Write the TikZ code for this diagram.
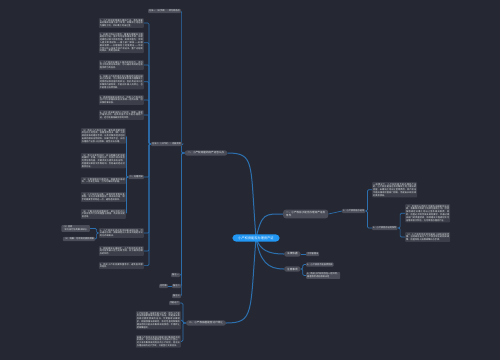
\documentclass[tikz,border=0pt]{standalone}
\usepackage{fontspec}
\newfontfamily\cjk{Noto Sans CJK SC}
\XeTeXlinebreaklocale "zh"
\XeTeXlinebreakskip=0pt plus 0.6pt
\definecolor{MapBack}{RGB}{37,40,50}
\definecolor{MapLine}{RGB}{44,112,176}
\definecolor{MapBlue}{RGB}{33,150,243}
\definecolor{MapNode}{RGB}{74,77,88}
\definecolor{MapLeaf}{RGB}{60,63,73}
\definecolor{MapText}{RGB}{232,233,236}
\pgfdeclarelayer{bg}
\pgfsetlayers{bg,main}

\begin{document}
\begin{tikzpicture}[x=1pt,y=-1pt,
    topic/.style={fill=MapBlue,text=white,rounded corners=4pt,inner xsep=6pt,inner ysep=2.2pt,font=\cjk\fontsize{3.2}{3.8}\selectfont},
    branch/.style={fill=MapNode,text=MapText,rounded corners=2.5pt,inner xsep=3pt,inner ysep=1.5pt,font=\cjk\fontsize{2.6}{3.2}\selectfont},
    tag/.style={fill=MapNode,text=MapText,rounded corners=0.8pt,inner sep=1pt,font=\cjk\fontsize{2.2}{2.8}\selectfont},
    leaf/.style={fill=MapLeaf,text=MapText,rounded corners=0.8pt,inner sep=1pt,text width=#1,align=justify,font=\cjk\fontsize{2.2}{2.8}\selectfont},
    leaf/.default=43pt,
    link/.style={draw=MapLine,line width=1pt},
    twig/.style={draw=MapLine,line width=0.7pt,rounded corners=1.2pt}]
    \useasboundingbox (0,0) rectangle (500,360);
    \node[topic] (root) at (256,238) {小产权房能否办理房产证};

    % left, first branch
    \node[branch] (l1) at (206,153) {一、小产权房屋的房产证怎么办};
    \node[tag,anchor=east] (m1) at (181,11) {方法一（补手续）：转为商品房};
    \node[tag,anchor=east] (m2) at (182,144) {方法二（小产权）：内部流转};
    \node[leaf,anchor=north east] (a1) at (144,18) {1、小产权房屋想要办理房产证，首先需要由村集体向国土部门申请，将集体土地征收为国有土地，并补缴土地出让金。};
    \node[leaf,anchor=north east] (a2) at (144,32) {2、补缴土地出让金后，需要办理建设工程规划许可证、施工许可证等相关手续，房屋还需经过竣工验收合格。具体流程为：申请人提交申请材料——国土部门审核——补缴相关税费——办理国有土地使用证——不动产登记中心核发不动产权证书。整个过程耗时较长，费用也较高。};
    \node[leaf,anchor=north east] (a3) at (144,60) {3、小产权房如果位于城市规划区内，且符合土地利用总体规划，可以通过政府的征收程序转为商品房。};
    \node[leaf,anchor=north east] (a4) at (144,74) {4、如果小产权房是在本村集体经济组织成员之间买卖，可以到村委会申请办理集体土地使用证和房屋所有权证，但此类证书只在本集体内部有效，不能向外部人员转让，也不能用于抵押贷款。};
    \node[leaf,anchor=north east] (a5) at (144,95) {5、若遇到国家征收拆迁，持有小产权房的住户可以依据相关协议获得一定的补偿，但补偿标准较低。};
    \node[leaf,anchor=north east] (a6) at (144,110) {6、对于违法建设的小产权房，国家一直是严格禁止的，这类房屋不仅不能办理房产证，还可能面临被拆除的风险。};
    \node[tag,anchor=east] (n2) at (144,177) {二、办理须知};
    \node[leaf,anchor=north east] (b1) at (126,128) {（1）购买小产权房之前，要先弄清楚房屋所在的土地性质，查看是否有乡（镇）人民政府批准的建房手续，以及村集体经济组织出具的相关证明材料。如果手续不全，日后办理房产证会十分困难，甚至无法办理。};
    \node[leaf,anchor=north east] (b2) at (126,153) {（2）签订买卖合同时，应当明确约定房屋的面积、价格、付款方式、交房时间以及违约责任等内容，并要求卖方提供身份证明、房屋建设审批文件等材料，合同最好经过村委会见证。};
    \node[leaf,anchor=north east] (b3) at (126,177) {（3）注意保留好付款凭证、收据等交易材料，一旦发生纠纷，可作为维权的依据。};
    \node[leaf,anchor=north east] (b4) at (126,192) {（4）小产权房在出售、出租时会受到较多限制，买方无法像商品房一样自由交易，转手时需要考虑到这一点，避免造成损失。};
    \node[leaf,anchor=north east] (b5) at (126,209) {（5）了解当地的政策规定，部分地区对小产权房有专门的清理整治措施，购买前应提前咨询。};
    \node[leaf,anchor=north east] (a7) at (144,228) {3、小产权房买卖过程中如果出现纠纷，可以通过协商、调解或者向人民法院提起诉讼的方式来解决。};
    \node[tag,anchor=east,align=left] (c1) at (90,228.5) {（1）协商\\\quad 双方自行协商解决纠纷。};
    \node[tag,anchor=east] (c2) at (95,239) {（2）调解：可申请村委会调解};
    \node[leaf,anchor=north east] (a8) at (144,246) {4、根据相关法律规定，小产权房的买卖合同可能会被认定为无效合同，买方需承担相应的风险。};
    \node[leaf,anchor=north east] (a9) at (144,262) {5、购买小产权房要慎重考虑，避免盲目跟风购买。};
    \node[tag,anchor=east] (m3) at (180,275) {备注一};
    \node[tag,anchor=east] (m4) at (181,286) {备注二};
    \node[tag,anchor=east] (m4a) at (168,286) {见附表};
    \node[tag,anchor=east] (m5) at (181,296) {备注三};

    % left, second branch
    \node[branch] (l2) at (206,323) {二、小产权房屋能否过户转让};
    \node[tag,anchor=east] (p1) at (180,303) {不能过户};
    \node[leaf,anchor=north east] (p2) at (181,311) {小产权房屋一般是不能过户的。因为小产权房没有国家颁发的房屋产权证，而是由乡政府或村委会颁发的证书，不受国家法律保护。根据我国法律规定，农村宅基地和集体建设用地只能由本集体成员使用，不得转让给城镇居民。};
    \node[leaf,anchor=north east] (p3) at (181,335) {如果小产权房买卖双方都是本村集体经济组织成员，可以到村委会进行内部过户登记。对于非本集体成员购买的小产权房，则无法办理正规的过户手续，只能签订买卖协议。};

    % right side
    \node[branch,anchor=west,align=left] (r1) at (283,214) {一、小产权房子能否办理房产证及\\条件};
    \node[tag,anchor=west] (q1) at (342,211) {1、小产权房能办证吗};
    \node[leaf,anchor=north west] (q2) at (372,182) {一般情况下，小产权房是不能办理房产证的。小产权房是指在农村集体土地上建设的房屋，未缴纳土地出让金等费用，其产权证不是由国家房管部门颁发，而是由乡政府或村委会颁发。};
    \node[tag,anchor=west] (q3) at (372,228) {2、小产权房办证的条件};
    \node[leaf,anchor=north west] (q4) at (405,204) {（1）房屋所占用的土地需先由国家依法征收，将集体所有的土地转为国有土地，然后按照规定补缴土地出让金及相关税费。同时，房屋必须符合城乡规划要求，并通过相关部门的质量验收，取得建设工程规划许可证等审批文件后，方可申请办理房产证。};
    \node[leaf,anchor=north west] (q5) at (405,232) {（2）小产权房所在地区被纳入城市规划范围，当地政府出台了小产权房转正的相关政策，房屋所有人按照政策补办手续。};
    \node[branch,anchor=west] (r2) at (284,254) {法律依据};
    \node[tag,anchor=west] (q6) at (306,254) {土地管理法};
    \node[branch,anchor=west] (r3) at (284,269) {注意事项};
    \node[tag,anchor=west] (q7) at (306,264.5) {1、小产权房不能抵押贷款};
    \node[tag,anchor=west,align=left] (q8) at (306,275.5) {2、购买小产权房存在一定风险，\\需谨慎考虑后再做决定};

    \begin{pgfonlayer}{bg}
      \fill[MapBack] (0,0) rectangle (500,360);
      \draw[link] (root.center) .. controls +(-6,-75) and +(28,0) .. (l1.east);
      \draw[link] (root.center) .. controls +(-6,75) and +(28,0) .. (l2.east);
      \draw[link] (root.center) .. controls +(6,-25) and +(-18,0) .. (r1.west);
      \draw[link] (root.center) .. controls +(4,12) and +(-16,0) .. (r2.west);
      \draw[link] (root.center) .. controls +(4,24) and +(-16,0) .. (r3.west);
      \foreach \c in {m1,m2,m3,m4,m5} \draw[twig] (l1.west) -- ++(-3,0) |- (\c.east);
      \foreach \c in {a1,a2,a3,a4,a5,a6,n2,a7,a8,a9} \draw[twig] (m2.west) -- ++(-2,0) |- (\c.east);
      \foreach \c in {b1,b2,b3,b4,b5} \draw[twig] (n2.west) -- ++(-2,0) |- (\c.east);
      \foreach \c in {c1,c2} \draw[twig] (a7.west) -- ++(-2,0) |- (\c.east);
      \draw[twig] (m4.west) -- (m4a.east);
      \foreach \c in {p1,p2,p3} \draw[twig] (l2.west) -- ++(-3,0) |- (\c.east);
      \draw[twig] (r1.east) -- (q1.west);
      \foreach \c in {q2,q3} \draw[twig] (q1.east) -- ++(2,0) |- (\c.west);
      \foreach \c in {q4,q5} \draw[twig] (q3.east) -- ++(2.5,0) |- (\c.west);
      \draw[twig] (r2.east) -- (q6.west);
      \foreach \c in {q7,q8} \draw[twig] (r3.east) -- ++(2,0) |- (\c.west);
    \end{pgfonlayer}
\end{tikzpicture}
\end{document}
